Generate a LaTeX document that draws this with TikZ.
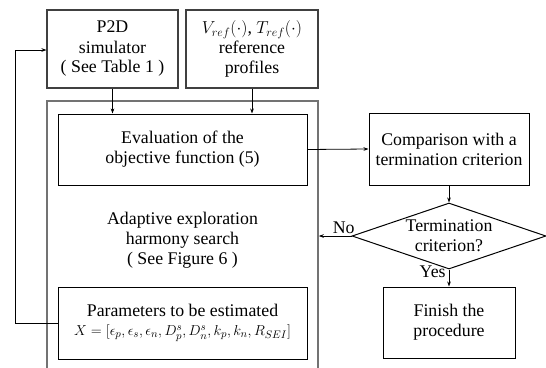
\documentclass[tikz,border=0pt]{standalone}
\usepackage{fontspec}
\setmainfont{Liberation Serif}
\newfontfamily\tnr{Liberation Serif}
\usetikzlibrary{shapes.geometric,arrows.meta}
\begin{document}
\begin{tikzpicture}[x=1pt,y=-1pt,
  every node/.style={font=\tnr\fontsize{17.8}{20}\selectfont, align=center, inner sep=0pt},
  box/.style={draw=black, line width=1pt, rectangle},
  topbox/.style={draw=black!75, line width=1.1pt, rectangle},
  outerbox/.style={draw=black!55, line width=1.6pt, rectangle},
  decision/.style={draw=black, line width=1pt, diamond},
  conn/.style={draw=black, line width=0.8pt, -{Stealth[length=5pt,width=3.6pt]}},
  lbl/.style={font=\tnr\fontsize{17.8}{20}\selectfont}
]
\useasboundingbox (0,0) rectangle (546,367);
\clip (0,0) rectangle (546,367);
% top boxes
\node[topbox, minimum width=131, minimum height=78] (p2d) at (112.5,49) {P2D\\simulator\\( See Table 1 )};
\node[topbox, minimum width=132, minimum height=78] (vref) at (252,49) {$V_{ref}(\cdot)$, $T_{ref}(\cdot)$\\reference\\profiles};
% outer box
\node[outerbox, minimum width=271, minimum height=276] (outer) at (182.5,239) {};
% inner boxes
\node[box, minimum width=249, minimum height=71] (eval) at (182.5,149.5) {Evaluation of the\\objective function (5)};
\node (aehs) at (182.5,240) {Adaptive exploration\\harmony search\\( See Figure 6 )};
\node[box, minimum width=249, minimum height=72] (param) at (182.5,323) {Parameters to be estimated\\[-1pt]{\fontsize{15.5}{18}\selectfont$X=[\epsilon_p,\epsilon_s,\epsilon_n,D_p^s,D_n^s,k_p,k_n,R_{SEI}]$}};
% right column
\node[box, minimum width=160, minimum height=72] (comp) at (449,149) {Comparison with a\\termination criterion};
\node[decision, minimum width=194, minimum height=66] (dec) at (449,236) {};
\node at (dec) {Termination\\criterion?};
\node[box, minimum width=132, minimum height=71] (fin) at (449,322.5) {Finish the\\procedure};
% connectors
\draw[conn] (p2d.south) -- (eval.north -| p2d.south);
\draw[conn] (vref.south) -- (eval.north -| vref.south);
\draw[conn] (eval.east) -- (comp.west);
\draw[conn] (comp.south) -- (dec.north);
\draw[conn] (dec.west) -- (dec.west -| outer.east) node[lbl, pos=0.24, above=2pt] {No};
\draw[conn] (dec.south) -- (fin.north) node[lbl, pos=0.15, left=3pt] {Yes};
\coordinate (fb1) at (15,323);
\coordinate (fb2) at (15,50);
\draw[conn] (param.west) -- (fb1) -- (fb2) -- (fb2 -| p2d.west);
\end{tikzpicture}
\end{document}
